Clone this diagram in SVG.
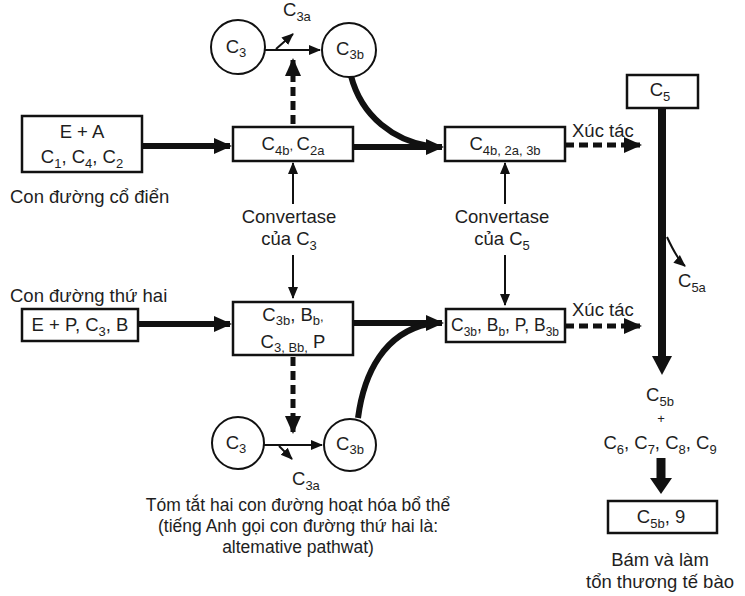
<svg xmlns="http://www.w3.org/2000/svg" width="745" height="596" viewBox="0 0 745 596">
<style>
.t{font-family:"Liberation Sans",Arial,sans-serif;font-size:18.5px;fill:#1e1e1e}
.s{font-size:13px}
.m{text-anchor:middle}
.box{fill:#fff;stroke:#111;stroke-width:2.5}
.circ{fill:#fff;stroke:#111;stroke-width:2}
.thin{fill:none;stroke:#111;stroke-width:2}
.thick{fill:none;stroke:#111;stroke-width:6}
.dash{fill:none;stroke:#111;stroke-width:5;stroke-dasharray:9,5}
</style>
<defs>
<marker id="ah" markerUnits="userSpaceOnUse" markerWidth="12" markerHeight="12" viewBox="0 0 12 12" refX="11" refY="6" orient="auto"><path d="M0,1 L12,6 L0,11 Z" fill="#111"/></marker>
<marker id="ahb" markerUnits="userSpaceOnUse" markerWidth="18" markerHeight="18" viewBox="0 0 18 18" refX="16" refY="9" orient="auto"><path d="M0,1 L18,9 L0,17 Z" fill="#111"/></marker>
</defs>
<rect width="745" height="596" fill="#fff"/>
<g id="connectors">
<line class="thin" x1="265" y1="50" x2="320" y2="50" marker-end="url(#ah)"/>
<line class="thin" x1="276" y1="49" x2="293" y2="34" marker-end="url(#ah)"/>
<line class="dash" x1="293" y1="124" x2="293" y2="60" marker-end="url(#ahb)"/>
<path class="thick" d="M351,76 C362,118 395,140 428,146"/>
<line class="thick" x1="142" y1="146" x2="230" y2="146" marker-end="url(#ahb)"/>
<line class="thick" x1="353" y1="147" x2="442" y2="147" marker-end="url(#ahb)"/>
<line class="dash" x1="565" y1="145" x2="640" y2="145" marker-end="url(#ahb)"/>
<line class="thin" x1="293" y1="204" x2="293" y2="163" marker-end="url(#ah)"/>
<line class="thin" x1="293" y1="255" x2="293" y2="298" marker-end="url(#ah)"/>
<line class="thin" x1="505" y1="204" x2="505" y2="163" marker-end="url(#ah)"/>
<line class="thin" x1="505" y1="255" x2="505" y2="305" marker-end="url(#ah)"/>
<line class="thick" x1="138" y1="324" x2="230" y2="324" marker-end="url(#ahb)"/>
<line class="thick" x1="353" y1="323" x2="442" y2="323" marker-end="url(#ahb)"/>
<path class="thick" d="M358,418 C364,372 385,333 428,324"/>
<line class="dash" x1="565" y1="326" x2="640" y2="326" marker-end="url(#ahb)"/>
<line class="dash" x1="293" y1="357" x2="293" y2="432" marker-end="url(#ahb)"/>
<line class="thin" x1="264" y1="445" x2="322" y2="445" marker-end="url(#ah)"/>
<line class="thin" x1="279" y1="446" x2="292" y2="459" marker-end="url(#ah)"/>
<line x1="662" y1="108" x2="662" y2="358" stroke="#111" stroke-width="8"/>
<path d="M652,356 L672,356 L662,375 Z" fill="#111"/>
<path class="thin" d="M667,237 C673,250 678,260 685,266" marker-end="url(#ah)"/>
<line x1="661" y1="458" x2="661" y2="480" stroke="#111" stroke-width="9"/>
<path d="M650,478 L672,478 L661,494 Z" fill="#111"/>
</g>
<g id="n_c3_top"><circle class="circ" cx="238" cy="47" r="27"/><text class="t m" x="236" y="53">C<tspan class="s" dy="4">3</tspan></text></g>
<g id="n_c3a_top"><text class="t" x="283" y="16">C<tspan class="s" dy="5">3a</tspan></text></g>
<g id="n_c3b_top"><circle class="circ" cx="349" cy="50" r="27"/><text class="t m" x="350" y="55">C<tspan class="s" dy="4">3b</tspan></text></g>
<g id="n_ea"><rect class="box" x="22" y="116" width="120" height="56"/><text class="t m" x="82" y="138">E + A</text><text class="t m" x="82" y="163">C<tspan class="s" dy="5">1</tspan><tspan dy="-5">, C</tspan><tspan class="s" dy="5">4</tspan><tspan dy="-5">, C</tspan><tspan class="s" dy="5">2</tspan></text></g>
<g id="l_classic"><text class="t" x="10" y="203">Con đường cổ điển</text></g>
<g id="n_c4bc2a"><rect class="box" x="233" y="127" width="120" height="34"/><text class="t m" x="293" y="150">C<tspan class="s" dy="5">4b</tspan><tspan class="s" dy="-5">, </tspan><tspan dy="0">C</tspan><tspan class="s" dy="5">2a</tspan></text></g>
<g id="n_c4b2a3b"><rect class="box" x="445" y="127" width="120" height="34"/><text class="t m" x="505" y="150">C<tspan class="s" dy="5">4b, 2a, 3b</tspan></text></g>
<g id="l_xt1"><text class="t" x="572" y="137">Xúc tác</text></g>
<g id="n_c5"><rect class="box" x="627" y="75" width="71" height="33"/><text class="t m" x="660" y="96">C<tspan class="s" dy="5">5</tspan></text></g>
<g id="l_conv3"><text class="t m" x="289" y="223">Convertase</text><text class="t m" x="289" y="245">của C<tspan class="s" dy="5">3</tspan></text></g>
<g id="l_conv5"><text class="t m" x="502" y="223">Convertase</text><text class="t m" x="502" y="245">của C<tspan class="s" dy="5">5</tspan></text></g>
<g id="l_c5a"><text class="t" x="678" y="287">C<tspan class="s" dy="5">5a</tspan></text></g>
<g id="l_alt"><text class="t" x="10" y="302">Con đường thứ hai</text></g>
<g id="n_epc3b"><rect class="box" x="22" y="309" width="116" height="32"/><text class="t m" x="80" y="331">E + P, C<tspan class="s" dy="5">3</tspan><tspan dy="-5">, B</tspan></text></g>
<g id="n_c3bbb"><rect class="box" x="233" y="302" width="120" height="53"/><text class="t m" x="293" y="321">C<tspan class="s" dy="4">3b</tspan><tspan dy="-4">, B</tspan><tspan class="s" dy="4">b</tspan><tspan class="s" dy="-4">,</tspan></text><text class="t m" x="293" y="348">C<tspan class="s" dy="4">3, Bb,</tspan><tspan dy="-4"> P</tspan></text></g>
<g id="n_c3bbbpb3b"><rect class="box" x="446" y="309" width="119" height="33"/><text class="t m" x="505" y="331" style="font-size:17.5px">C<tspan class="s" dy="5" style="font-size:12px">3b</tspan><tspan dy="-5">, B</tspan><tspan class="s" dy="5" style="font-size:12px">b</tspan><tspan dy="-5">, P, B</tspan><tspan class="s" dy="5" style="font-size:12px">3b</tspan></text></g>
<g id="l_xt2"><text class="t" x="572" y="316">Xúc tác</text></g>
<g id="n_c3_bot"><circle class="circ" cx="238" cy="443" r="26"/><text class="t m" x="236" y="449">C<tspan class="s" dy="4">3</tspan></text></g>
<g id="n_c3b_bot"><circle class="circ" cx="350" cy="445" r="26"/><text class="t m" x="350" y="450">C<tspan class="s" dy="4">3b</tspan></text></g>
<g id="l_c3a_bot"><text class="t" x="292" y="485">C<tspan class="s" dy="5">3a</tspan></text></g>
<g id="l_caption"><text class="t m" x="298" y="511" style="font-size:17.5px">Tóm tắt hai con đường hoạt hóa bổ thể</text><text class="t m" x="298" y="532" style="font-size:17.5px">(tiếng Anh gọi con đường thứ hai là:</text><text class="t m" x="298" y="553" style="font-size:17.5px">altemative pathwat)</text></g>
<g id="l_c5b"><text class="t m" x="660" y="401">C<tspan class="s" dy="5">5b</tspan></text><text class="t m" x="661" y="423" style="font-size:13px">+</text><text class="t m" x="660" y="449">C<tspan class="s" dy="5">6</tspan><tspan dy="-5">, C</tspan><tspan class="s" dy="5">7</tspan><tspan dy="-5">, C</tspan><tspan class="s" dy="5">8</tspan><tspan dy="-5">, C</tspan><tspan class="s" dy="5">9</tspan></text></g>
<g id="n_c5b9"><rect class="box" x="608" y="501" width="109" height="32"/><text class="t m" x="661" y="523">C<tspan class="s" dy="5">5b</tspan><tspan dy="-5">, 9</tspan></text></g>
<g id="l_bam"><text class="t m" x="660" y="566">Bám và làm</text><text class="t m" x="660" y="588">tổn thương tế bào</text></g>
</svg>
